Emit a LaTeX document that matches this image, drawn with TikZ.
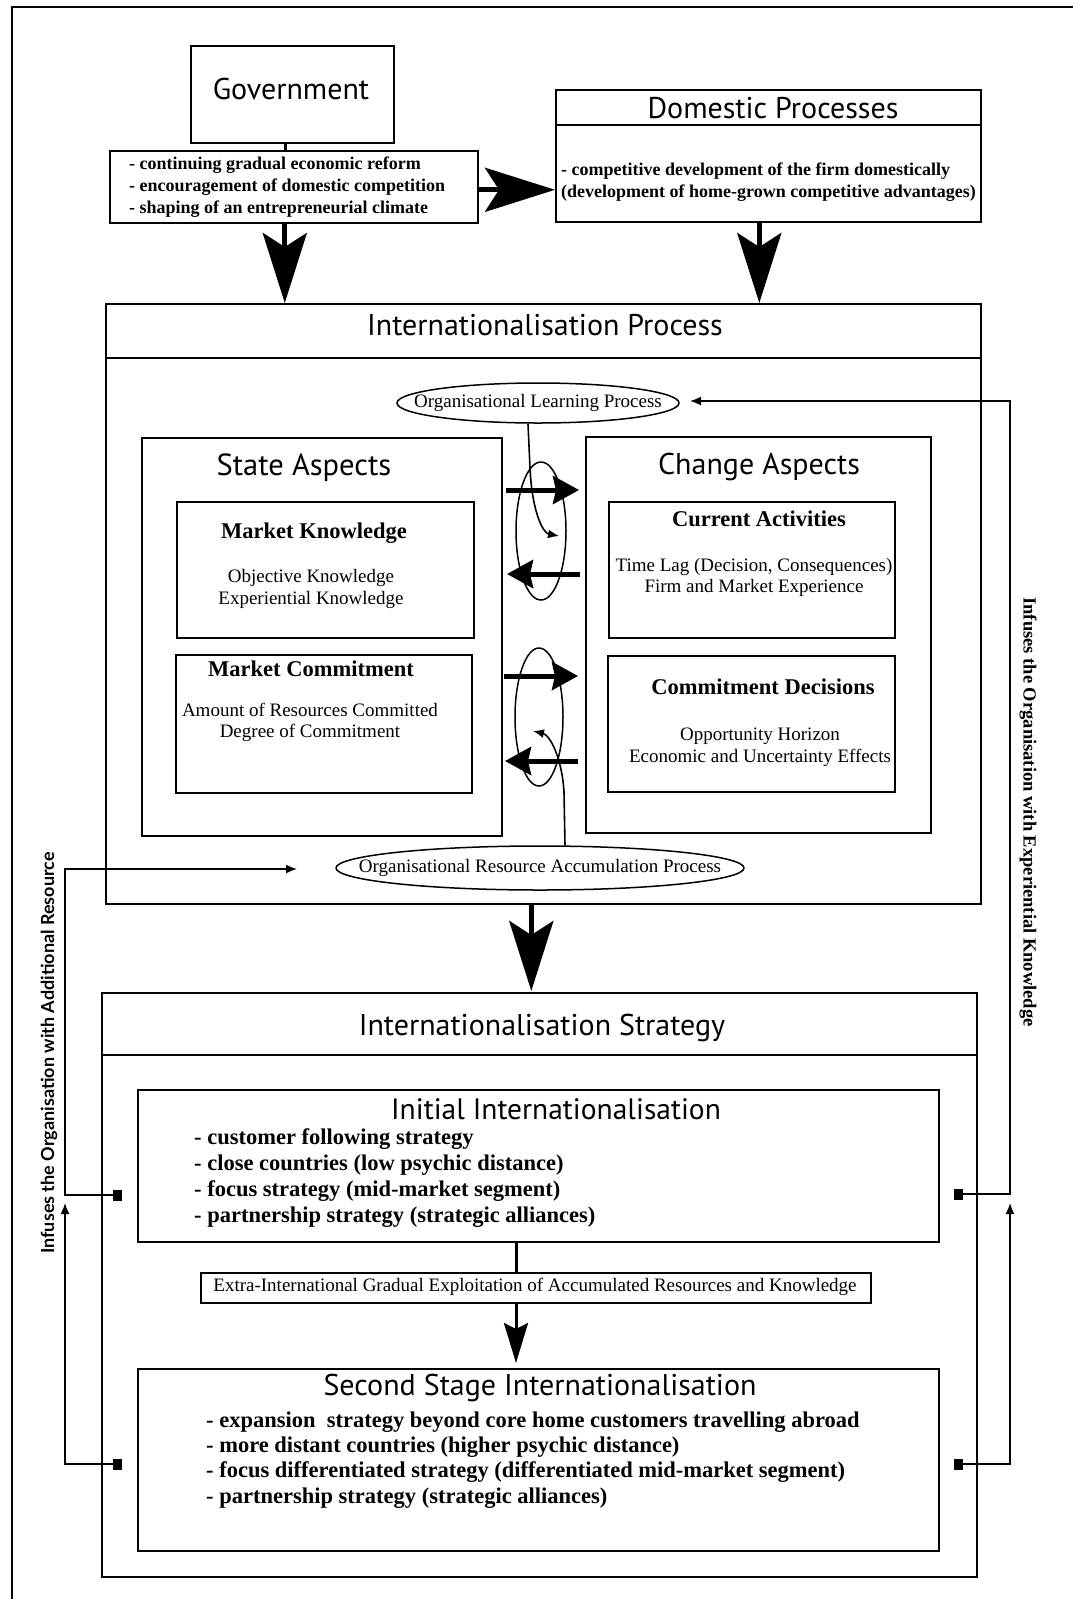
\documentclass[tikz,border=0pt]{standalone}
\usepackage{fontspec}
\setmainfont{Liberation Serif}
\newfontfamily\hdfont{PT Sans}
\newfontfamily\lblfont{Lato}
\usetikzlibrary{arrows.meta,shapes.geometric}

\tikzset{
  box/.style={draw, line width=1.6pt, inner sep=0pt, anchor=north west},
  oval/.style={draw, ellipse, line width=1.5pt, inner sep=0pt},
  hd/.style={font=\hdfont\fontsize{#1}{#1}\selectfont, inner sep=0pt},
  sb/.style={font=\bfseries\fontsize{#1}{#1}\selectfont, inner sep=0pt},
  sr/.style={font=\fontsize{19}{#1}\selectfont, inner sep=0pt, align=center},
  blist/.style={font=\bfseries\fontsize{22.5}{#1}\selectfont, inner sep=0pt, align=left, anchor=west},
  bigarr/.style={line width=5pt, -{Stealth[length=70pt,width=44pt,inset=14pt]}},
  midarr/.style={line width=5pt, -{Stealth[length=26pt,width=28pt,inset=3pt]}},
  fb/.style={line width=1.6pt},
  fbarr/.style={line width=1.6pt, -{Latex[length=11pt,width=9pt]}},
  sq/.style={fill, minimum width=9pt, minimum height=11pt, inner sep=0pt},
}

\begin{document}
\begin{tikzpicture}[x=1pt,y=-1pt]
\useasboundingbox (0,0) rectangle (1073,1599);

% page frame (top and left rules)
\draw[line width=1.6pt] (12,1599) -- (12,7) -- (1073,7);

% ---------- government and domestic ----------
\node[box, minimum width=203pt, minimum height=97pt] (gov) at (190,45) {};
\node[hd=30] (govT) at (291,89) {Government};
\node[box, minimum width=368pt, minimum height=72pt] (govl) at (109,150) {};
\node[font=\bfseries\fontsize{18}{22}\selectfont, inner sep=0pt, align=left, anchor=west] (govTxt) at (129,187)
  {- continuing gradual economic reform\\- encouragement of domestic competition\\- shaping of an entrepreneurial climate};

\node[box, minimum width=425pt, minimum height=132pt] (dom) at (555,89) {};
\draw[line width=1.6pt] ([yshift=-36pt]dom.north west) -- ([yshift=-36pt]dom.north east);
\node[hd=30] (domT) at (773,108) {Domestic Processes};
\node[font=\bfseries\fontsize{18}{22}\selectfont, inner sep=0pt, align=left, anchor=west] (domTxt) at (561,182)
  {- competitive development of the firm domestically\\(development of home-grown competitive advantages)};

% ---------- internationalisation process ----------
\node[box, minimum width=875pt, minimum height=600pt] (proc) at (105,303) {};
\draw[line width=1.6pt] ([yshift=-55pt]proc.north west) -- ([yshift=-55pt]proc.north east);
\node[hd=30] (procT) at (545,325) {Internationalisation Process};

\node[oval, minimum width=282pt, minimum height=40pt] (learn) at (538,403) {};
\node[sr=19] (learnT) at (538,403) {Organisational Learning Process};

\node[box, minimum width=360pt, minimum height=398pt] (state) at (141,437) {};
\node[hd=30.5] (stateT) at (304,468) {State Aspects};
\node[box, minimum width=345pt, minimum height=396pt] (change) at (585,436) {};
\node[hd=30] (changeT) at (759,467) {Change Aspects};

\node[box, minimum width=297pt, minimum height=136pt] (mk) at (176,501) {};
\node[sb=22.5] (mkT) at (314,533) {Market Knowledge};
\node[sr=22] (mkTxt) at (311,589) {Objective Knowledge\\Experiential Knowledge};

\node[box, minimum width=286pt, minimum height=136pt] (ca) at (608,501) {};
\node[sb=22.5] (caT) at (759,519) {Current Activities};
\node[sr=21] (caTxt) at (754,577) {Time Lag (Decision, Consequences)\\Firm and Market Experience};

\node[box, minimum width=296pt, minimum height=138pt] (mc) at (175,654) {};
\node[sb=22.5] (mcT) at (311,669) {Market Commitment};
\node[sr=21] (mcTxt) at (310,722) {Amount of Resources Committed\\Degree of Commitment};

\node[box, minimum width=287pt, minimum height=136pt] (cd) at (607,655) {};
\node[sb=22.5] (cdT) at (763,687) {Commitment Decisions};
\node[sr=22] (cdTxt) at (760,747) {Opportunity Horizon\\Economic and Uncertainty Effects};

\node[oval, minimum width=408pt, minimum height=44pt] (res) at (540,868) {};
\node[sr=19] (resT) at (540,868) {Organisational Resource Accumulation Process};

% learning loops between state and change aspects
\node[oval, minimum width=50pt, minimum height=138pt] (loopA) at (541,531) {};
\node[oval, minimum width=48pt, minimum height=138pt] (loopB) at (539,717) {};

\coordinate (a1s) at (506,490); \coordinate (a1e) at (579,490);
\coordinate (a2s) at (580,574); \coordinate (a2e) at (507,574);
\coordinate (a3s) at (504,676); \coordinate (a3e) at (578,676);
\coordinate (a4s) at (578,761); \coordinate (a4e) at (505,761);
\draw[midarr] (a1s) -- (a1e);
\draw[midarr] (a2s) -- (a2e);
\draw[midarr] (a3s) -- (a3e);
\draw[midarr] (a4s) -- (a4e);

\coordinate (learnTip) at (559,536);
\coordinate (resTip) at (533,731);
\draw[fbarr] ([xshift=-10pt]learn.south) -- (530,468) .. controls (532,512) and (543,533) .. (learnTip);
\draw[fbarr] ([xshift=25pt]res.north) -- (564,792) .. controls (562,758) and (550,735) .. (resTip);

% ---------- main flow arrows ----------
\draw[line width=3pt] ([xshift=-7pt]gov.south) -- ([xshift=-7pt]gov.south |- govl.north);
\draw[bigarr] ([yshift=-3pt]govl.east) -- ([yshift=-3pt]govl.east -| dom.west);
\draw[bigarr] ([xshift=-9pt]govl.south) -- ([xshift=-9pt]govl.south |- proc.north);
\draw[bigarr] ([xshift=-9pt]dom.south) -- ([xshift=-9pt]dom.south |- proc.north);
\draw[bigarr] ([xshift=-12pt]proc.south) -- ([xshift=-12pt]proc.south |- 0,991);

% ---------- internationalisation strategy ----------
\node[box, minimum width=875pt, minimum height=584pt] (strat) at (101,992) {};
\draw[line width=1.6pt] ([yshift=-63pt]strat.north west) -- ([yshift=-63pt]strat.north east);
\node[hd=30] (stratT) at (542,1028) {Internationalisation Strategy};

\node[box, minimum width=801pt, minimum height=152pt] (init) at (137,1089) {};
\node[hd=29.5] (initT) at (556,1109) {Initial Internationalisation};
\node[blist=26.3] (initTxt) at (194,1178)
  {- customer following strategy\\- close countries (low psychic distance)\\- focus strategy (mid-market segment)\\- partnership strategy (strategic alliances)};

\node[box, minimum width=670pt, minimum height=30pt] (extra) at (200,1272) {};
\node[sr=19] (extraT) at (535,1287) {Extra-International Gradual Exploitation of Accumulated Resources and Knowledge};

\node[box, minimum width=801pt, minimum height=182pt] (second) at (137,1368) {};
\node[hd=30] (secondT) at (540,1388) {Second Stage Internationalisation};
\node[blist=25.3] (secondTxt) at (206,1460)
  {- expansion\ \ strategy beyond core home customers travelling abroad\\- more distant countries (higher psychic distance)\\- focus differentiated strategy (differentiated mid-market segment)\\- partnership strategy (strategic alliances)};

\coordinate (sx) at (516,0);
\draw[line width=3pt] (init.south -| sx) -- (extra.north -| sx);
\draw[line width=3pt, -{Stealth[length=40pt,width=24pt,inset=6pt]}] (extra.south -| sx) -- ([yshift=5pt]second.north -| sx);

% ---------- feedback loops ----------
\node[sq] (sqA) at (117,1195) {};
\node[sq] (sqB) at (117,1464) {};
\node[sq] (sqC) at (958,1194) {};
\node[sq] (sqD) at (958,1464) {};
\coordinate (lx) at (65,0);
\coordinate (rx) at (1010,0);
\coordinate (resIn) at (297,869);
\coordinate (learnIn) at (690,401);
\coordinate (lupTip) at (65,1203);
\coordinate (rupTip) at (1010,1203);

\draw[fbarr] (sqA.center) -| (lx |- resIn) -- (resIn);
\draw[fbarr] (sqB.center) -| (lupTip);
\draw[fbarr] (sqC.center) -| (rx |- learnIn) -- (learnIn);
\draw[fbarr] (sqD.center) -| (rupTip);

\node[rotate=90, font=\lblfont\bfseries\fontsize{18}{18}\selectfont, inner sep=0pt] (lblL) at (49,1053)
  {Infuses the Organisation with Additional Resource};
\node[rotate=-90, font=\bfseries\fontsize{18.5}{18.5}\selectfont, inner sep=0pt] (lblR) at (1028,812)
  {Infuses the Organisation with Experiential Knowledge};

\end{tikzpicture}
\end{document}
